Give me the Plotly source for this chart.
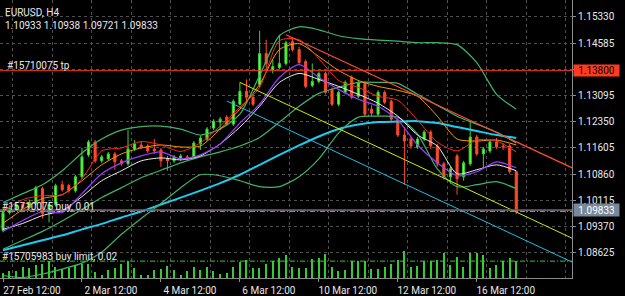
import plotly.graph_objects as go

# ---------------- data ----------------
symbol_title = "EURUSD, H4"

bar_index = list(range(79))  # H4 bars, 27 Feb 12:00 ... 17 Mar 12:00

open_ = [1.09261, 1.09769, 1.09882, 1.09995, 1.09910, 1.10023, 1.10446, 1.09769, 1.09995, 1.10559,
         1.10531, 1.10390, 1.10785, 1.11406, 1.11773, 1.11237, 1.11293, 1.11434, 1.11237, 1.11152,
         1.11576, 1.11688, 1.11660, 1.11576, 1.11547, 1.11293, 1.11237, 1.11293, 1.11350, 1.11350,
         1.11717, 1.11858, 1.12168, 1.12338, 1.12479, 1.12281, 1.12846, 1.13213, 1.13043, 1.13410,
         1.14286, 1.13834, 1.13890, 1.14003, 1.14624, 1.14399, 1.14060, 1.13382, 1.13495, 1.13721,
         1.13269, 1.12846, 1.13185, 1.13608, 1.13072, 1.13439, 1.12705, 1.12564, 1.13185, 1.12931,
         1.12394, 1.11971, 1.11858, 1.11632, 1.11858, 1.12055, 1.11660, 1.11152, 1.10785, 1.11378,
         1.10785, 1.11152, 1.11914, 1.11434, 1.11519, 1.11773, 1.11660, 1.11660, 1.10933]
high = [1.09882, 1.09966, 1.10079, 1.10051, 1.10136, 1.10531, 1.10503, 1.10051, 1.10587, 1.10672,
        1.10587, 1.10842, 1.11604, 1.11830, 1.11830, 1.11406, 1.11491, 1.11491, 1.11293, 1.12112,
        1.11830, 1.11801, 1.11717, 1.11858, 1.11604, 1.11378, 1.11406, 1.11434, 1.11406, 1.11801,
        1.11943, 1.12197, 1.12422, 1.12479, 1.12535, 1.12987, 1.13467, 1.13552, 1.13100, 1.14935,
        1.14681, 1.14116, 1.14822, 1.14653, 1.14737, 1.14483, 1.14116, 1.14003, 1.13777, 1.13777,
        1.13326, 1.13241, 1.13523, 1.13665, 1.13523, 1.13495, 1.12818, 1.13241, 1.13241, 1.12987,
        1.12451, 1.12197, 1.11914, 1.11914, 1.12112, 1.12112, 1.11717, 1.11209, 1.11067, 1.11434,
        1.11237, 1.12366, 1.11971, 1.11632, 1.11830, 1.11886, 1.11745, 1.11717, 1.10938]
low = [1.09204, 1.09712, 1.09825, 1.09825, 1.09854, 1.09966, 1.09599, 1.09487, 1.09938, 1.10362,
       1.10333, 1.10333, 1.10729, 1.11350, 1.11180, 1.11180, 1.11237, 1.10983, 1.11096, 1.11096,
       1.11519, 1.11576, 1.11463, 1.11434, 1.11067, 1.10954, 1.11180, 1.11237, 1.11265, 1.11293,
       1.11547, 1.11801, 1.12112, 1.12112, 1.12225, 1.12225, 1.12818, 1.12902, 1.12789, 1.13326,
       1.13834, 1.13721, 1.13834, 1.13947, 1.14342, 1.13975, 1.13298, 1.13326, 1.13439, 1.13128,
       1.12789, 1.12789, 1.13128, 1.12987, 1.13015, 1.12507, 1.12507, 1.12507, 1.12846, 1.12366,
       1.11914, 1.10559, 1.11576, 1.11576, 1.11801, 1.11576, 1.11067, 1.10700, 1.10587, 1.10277,
       1.10672, 1.11096, 1.11378, 1.11011, 1.11463, 1.11576, 1.11547, 1.10870, 1.09721]
close = [1.09769, 1.09882, 1.09995, 1.09910, 1.10051, 1.10475, 1.09741, 1.09995, 1.10531, 1.10418,
         1.10390, 1.10785, 1.11350, 1.11773, 1.11237, 1.11350, 1.11434, 1.11209, 1.11152, 1.11576,
         1.11717, 1.11632, 1.11519, 1.11519, 1.11237, 1.11237, 1.11350, 1.11378, 1.11321, 1.11745,
         1.11886, 1.12140, 1.12366, 1.12422, 1.12281, 1.12931, 1.13213, 1.13043, 1.12846, 1.14286,
         1.14003, 1.13919, 1.14003, 1.14596, 1.14399, 1.14032, 1.13354, 1.13495, 1.13721, 1.13185,
         1.12846, 1.13185, 1.13467, 1.13043, 1.13467, 1.12564, 1.12592, 1.13185, 1.12902, 1.12422,
         1.11971, 1.11801, 1.11660, 1.11858, 1.12055, 1.11660, 1.11152, 1.10785, 1.11011, 1.10729,
         1.11180, 1.11914, 1.11434, 1.11576, 1.11773, 1.11632, 1.11632, 1.10933, 1.09833]
tick_volume = [5000, 7000, 7000, 11000, 10000, 13000, 14000, 17000, 11000, 9000,
               10000, 13000, 14000, 14000, 6000, 3000, 8000, 10000, 14000, 17000,
               10000, 3000, 3000, 8000, 9000, 12000, 8000, 3000, 7000, 11000,
               8000, 11000, 7000, 4000, 5000, 11000, 16000, 18000, 10000, 10000,
               14000, 17000, 20000, 23000, 11000, 10000, 10000, 19000, 20000, 24000,
               11000, 7000, 8000, 17000, 17000, 17000, 9000, 9000, 11000, 14000,
               18000, 27000, 11000, 12000, 17000, 17000, 18000, 25000, 13000, 21000,
               11000, 25000, 25000, 23000, 10000, 13000, 17000, 20000, 17000]

# indicator lines, read every third bar
ind_bars = [0, 3, 6, 9, 12, 15, 18, 21, 24, 27, 30, 33, 36, 39, 42, 45, 48, 51, 54, 57, 60, 63, 66, 69, 72, 75, 78]
ma_cyan = [1.08695, 1.08837, 1.08979, 1.09120, 1.09289, 1.09444, 1.09627, 1.09797, 1.09994, 1.10192,
           1.10390, 1.10602, 1.10842, 1.11124, 1.11406, 1.11674, 1.11928, 1.12140, 1.12267, 1.12338,
           1.12352, 1.12366, 1.12310, 1.12197, 1.12084, 1.11971, 1.11886]
band_upper = [1.10051, 1.10305, 1.10559, 1.10955, 1.11462, 1.11858, 1.12112, 1.12211, 1.12225, 1.12140,
              1.11971, 1.12140, 1.12564, 1.13665, 1.14794, 1.15048, 1.14963, 1.14794, 1.14709, 1.14667,
              1.14638, 1.14596, 1.14596, 1.14540, 1.14032, 1.13128, 1.12705]
band_middle = [1.08724, 1.08979, 1.09232, 1.09529, 1.09853, 1.10192, 1.10475, 1.10757, 1.10969, 1.11180,
               1.11350, 1.11491, 1.11660, 1.11900, 1.12337, 1.12789, 1.13156, 1.13326, 1.13467, 1.13467,
               1.13439, 1.13128, 1.12818, 1.12507, 1.12281, 1.12055, 1.11745]
band_lower = [1.07977, 1.07920, 1.08019, 1.08160, 1.08329, 1.08639, 1.09148, 1.09599, 1.10023, 1.10475,
              1.10842, 1.10814, 1.10672, 1.10503, 1.10503, 1.10786, 1.11293, 1.12027, 1.12479, 1.12507,
              1.12479, 1.11999, 1.11011, 1.10503, 1.10559, 1.10644, 1.10446]
ma_white = [1.09289, 1.09458, 1.09684, 1.09825, 1.10221, 1.10672, 1.10955, 1.11237, 1.11321, 1.11265,
            1.11378, 1.11717, 1.12197, 1.12789, 1.13467, 1.13721, 1.13552, 1.13354, 1.13128, 1.12874,
            1.12507, 1.11971, 1.11660, 1.10870, 1.10983, 1.11124, 1.10955]
ma_purple = [1.09232, 1.09543, 1.09797, 1.09769, 1.10305, 1.10870, 1.11180, 1.11378, 1.11491, 1.11293,
             1.11406, 1.11717, 1.12310, 1.12846, 1.13608, 1.13975, 1.13608, 1.13269, 1.12987, 1.12790,
             1.12394, 1.11688, 1.11180, 1.10814, 1.10927, 1.11209, 1.11039]
ma_orange = [1.09458, 1.09853, 1.10164, 1.10277, 1.10672, 1.11124, 1.11434, 1.11604, 1.11688, 1.11632,
             1.11660, 1.12140, 1.12705, 1.13410, 1.14399, 1.14568, 1.14201, 1.13806, 1.13523, 1.13354,
             1.13241, 1.13072, 1.12507, 1.11858, 1.11801, 1.11829, 1.11688]
ma_red = [1.09797, 1.10136, 1.10249, 1.10277, 1.10729, 1.11519, 1.11604, 1.11787, 1.11688, 1.11505,
          1.11745, 1.12225, 1.12761, 1.13326, 1.14653, 1.14681, 1.14144, 1.13523, 1.13326, 1.13072,
          1.12959, 1.12394, 1.11773, 1.11519, 1.11829, 1.11801, 1.11491]

# channel trend lines: (bar, price) anchors, drawn as rays to the right edge
trend_red_bars, trend_red_prices = [43, 86.5], [1.14822, 1.11039]
trend_yellow_bars, trend_yellow_prices = [36, 86.5], [1.13467, 1.09035]
trend_cyan_bars, trend_cyan_prices = [34, 86.5], [1.12939, 1.08357]

# orders / price lines
tp_price = 1.13800
buy_price = 1.09797
ask_price = 1.09848
buy_limit_price = 1.08386
order_labels = ["#15710075 tp", "#15710075 buy, 0.01", "#15705983 buy limit, 0.02"]

# axes
time_tick_bars = [0, 12, 24, 36, 48, 60, 72]
time_tick_text = ["27 Feb 12:00", "2 Mar 12:00", "4 Mar 12:00", "6 Mar 12:00",
                  "10 Mar 12:00", "12 Mar 12:00", "16 Mar 12:00"]
price_ticks = [1.15330, 1.14585, 1.13840, 1.13095, 1.12350, 1.11605, 1.10860, 1.10115, 1.09370, 1.08625]

# ---------------- figure ----------------
FONT = "Roboto, DejaVu Sans, sans-serif"
TXT = "#e8e8e8"
GRID = "#505050"
AX = "#8a8a8a"

fig = go.Figure()

fig.add_trace(go.Bar(x=bar_index, y=tick_volume, yaxis="y2", width=0.2,
                     marker=dict(color="#32cd32", line=dict(width=0)), hoverinfo="skip"))

fig.add_trace(go.Candlestick(
    x=bar_index, open=open_, high=high, low=low, close=close, whiskerwidth=0,
    increasing=dict(line=dict(color="#3ad43a", width=1), fillcolor="#6cff2e"),
    decreasing=dict(line=dict(color="#ff4a2a", width=1), fillcolor="#ff4a2a"),
))

def add_line(xs, ys, color, width=1.0, spline=True):
    fig.add_trace(go.Scatter(
        x=xs, y=ys, mode="lines", hoverinfo="skip",
        line=dict(color=color, width=width, shape="spline" if spline else "linear", smoothing=0.7)))

add_line(ind_bars, ma_cyan, "#1ecbf2", 2.0)
add_line(ind_bars, band_upper, "#3fb36c", 1.2)
add_line(ind_bars, band_middle, "#3fb36c", 1.2)
add_line(ind_bars, band_lower, "#3fb36c", 1.2)
add_line(ind_bars, ma_white, "#eeeeee", 1.0)
add_line(ind_bars, ma_purple, "#9a3cff", 1.2)
add_line(ind_bars, ma_orange, "#ff9a00", 1.0)
add_line(ind_bars, ma_red, "#ff2a1a", 1.0)

add_line(trend_cyan_bars, trend_cyan_prices, "#18c0e8", 1.0, spline=False)
add_line(trend_yellow_bars, trend_yellow_prices, "#c8f000", 1.0, spline=False)
add_line(trend_red_bars, trend_red_prices, "#ff4a30", 1.3, spline=False)

def hline(price, color, dash="solid", width=1):
    fig.add_shape(type="line", xref="paper", x0=0, x1=1, yref="y", y0=price, y1=price,
                  line=dict(color=color, width=width, dash=dash), layer="above")

hline(tp_price, "#ff3b1f")
hline(close[-1], "#778899")
hline(ask_price, "#b0303e")
hline(buy_price, "#33cc33", dash="5px,2px,1px,2px")
hline(buy_limit_price, "#33cc33", dash="5px,2px,1px,2px")

ann_font = dict(family=FONT, size=10, color=TXT)
last_ohlc = f"{open_[-1]:.5f} {high[-1]:.5f} {low[-1]:.5f} {close[-1]:.5f}"
fig.add_annotation(text=symbol_title, xref="paper", x=0, xanchor="left", xshift=3,
                   yref="paper", y=1, yanchor="top", yshift=-5, showarrow=False, font=ann_font)
fig.add_annotation(text=last_ohlc, xref="paper", x=0, xanchor="left", xshift=3,
                   yref="paper", y=1, yanchor="top", yshift=-18, showarrow=False, font=ann_font)
fig.add_annotation(text=order_labels[0], xref="paper", x=0, xanchor="left", xshift=5,
                   yref="y", y=tp_price, yanchor="bottom", yshift=-2, showarrow=False, font=ann_font)
fig.add_annotation(text=order_labels[1], xref="paper", x=0, xanchor="left", xshift=0,
                   yref="y", y=close[-1], yanchor="bottom", yshift=-4, showarrow=False, font=ann_font)
fig.add_annotation(text=order_labels[2], xref="paper", x=0, xanchor="left", xshift=0,
                   yref="y", y=buy_limit_price, yanchor="bottom", yshift=-3, showarrow=False, font=ann_font)

# price tags on the right scale
fig.add_annotation(text=f"{tp_price:.5f}", xref="paper", x=1, xanchor="left", xshift=1,
                   yref="y", y=tp_price, yanchor="middle", showarrow=False,
                   bgcolor="#ff3b1f", width=45, height=11, borderpad=0,
                   font=dict(family=FONT, size=10, color="#000000"))
fig.add_annotation(text=f"{close[-1]:.5f}", xref="paper", x=1, xanchor="left", xshift=1,
                   yref="y", y=close[-1], yanchor="middle", showarrow=False,
                   bgcolor="#778899", width=45, height=12, borderpad=0,
                   font=dict(family=FONT, size=10, color="#ffffff"))

fig.update_layout(
    width=625, height=296, margin=dict(l=0, r=53, t=0, b=16),
    paper_bgcolor="#000000", plot_bgcolor="#000000", showlegend=False,
    boxgap=0.55, bargap=0,
    xaxis=dict(
        range=[-0.456, 86.47], rangeslider=dict(visible=False),
        tickmode="array", tickvals=time_tick_bars, ticktext=time_tick_text,
        ticks="outside", ticklen=3, tickcolor=AX, ticklabelshift=29,
        tickfont=dict(family=FONT, size=10, color=TXT),
        showgrid=False, zeroline=False, showline=True, linecolor=AX, linewidth=1,
        minor=dict(tick0=1.5, dtick=6, showgrid=True, gridcolor=GRID, griddash="3px,3px",
                   gridwidth=1, ticks=""),
    ),
    yaxis=dict(
        side="right", range=[1.07906, 1.15810],
        tickmode="array", tickvals=price_ticks, ticktext=[f"{p:.5f}" for p in price_ticks],
        ticks="outside", ticklen=3, tickcolor=AX,
        tickfont=dict(family=FONT, size=10, color=TXT),
        showgrid=True, gridcolor=GRID, griddash="3px,3px", gridwidth=1,
        zeroline=False, showline=True, linecolor=AX, linewidth=1,
    ),
    yaxis2=dict(overlaying="y", range=[0, 280000], visible=False),
)

fig.write_html("out.html")
